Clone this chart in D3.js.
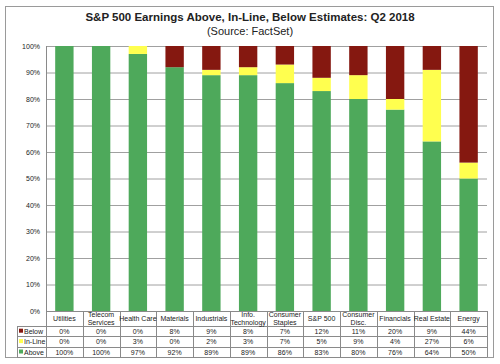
<html lang="en">
<head>
<meta charset="UTF-8">
<title>S&P 500 Earnings Above, In-Line, Below Estimates: Q2 2018</title>
<script src="https://d3js.org/d3.v7.min.js"></script>
<style>
  body { margin: 0; background: #fff; font-family: "Liberation Sans", Arial, sans-serif; }
  svg text { font-family: "Liberation Sans", Arial, sans-serif; fill: #222; }
</style>
</head>
<body>
<svg width="500" height="364"></svg>
<script>
// data
const categories = [
  ["Utilities"], ["Telecom", "Services"], ["Health Care"], ["Materials"],
  ["Industrials"], ["Info.", "Technology"], ["Consumer", "Staples"], ["S&P 500"],
  ["Consumer", "Disc."], ["Financials"], ["Real Estate"], ["Energy"]
];
const below  = [0, 0, 0, 8, 9, 8, 7, 12, 11, 20, 9, 44];
const inLine = [0, 0, 3, 0, 2, 3, 7, 5, 9, 4, 27, 6];
const above  = [100, 100, 97, 92, 89, 89, 86, 83, 80, 76, 64, 50];
const yTicks = [0, 10, 20, 30, 40, 50, 60, 70, 80, 90, 100];

const colors = { above: "#4ea95b", inLine: "#ffff4f", below: "#851810" };

const svg = d3.select("svg");
const plotLeft = 46, plotRight = 487, plotTop = 46, plotBottom = 311;

// outer frame
svg.append("rect")
  .attr("x", 5.5).attr("y", 6.5).attr("width", 488).attr("height", 351)
  .attr("fill", "none").attr("stroke", "#9a9a9a");

svg.append("text").attr("x", 250).attr("y", 21)
  .attr("text-anchor", "middle").attr("font-size", 11.5).attr("font-weight", "bold")
  .text("S&P 500 Earnings Above, In-Line, Below Estimates: Q2 2018");
svg.append("text").attr("x", 250).attr("y", 35)
  .attr("text-anchor", "middle").attr("font-size", 11)
  .text("(Source: FactSet)");

const x = d3.scaleBand()
  .domain(d3.range(categories.length))
  .range([plotLeft, plotRight])
  .padding(0);

const y = d3.scaleLinear().domain([0, 100]).range([plotBottom, plotTop]);

// gridlines
svg.append("g")
  .attr("transform", `translate(${plotLeft},0)`)
  .call(d3.axisLeft(y).tickValues(yTicks).tickSize(-(plotRight - plotLeft)).tickFormat(d => d + "%"))
  .call(g => g.select(".domain").remove())
  .call(g => g.selectAll(".tick line").attr("stroke", "#a0a0a0"))
  .call(g => g.selectAll(".tick text").attr("x", -6).attr("font-size", 7)
    .attr("font-family", "Liberation Sans, Arial, sans-serif").attr("fill", "#222"));

// y axis line
svg.append("line").attr("x1", plotLeft + 0.5).attr("x2", plotLeft + 0.5)
  .attr("y1", plotTop).attr("y2", plotBottom).attr("stroke", "#8a8a8a");

// stacked bars
const rows = categories.map((c, i) => ({ i, above: above[i], inLine: inLine[i], below: below[i] }));
const stack = d3.stack().keys(["above", "inLine", "below"]);
const series = stack(rows);
const bw = x.bandwidth() * 0.5;

svg.append("g").selectAll("g")
  .data(series)
  .join("g")
  .attr("fill", d => colors[d.key])
  .selectAll("rect")
  .data(d => d)
  .join("rect")
  .attr("x", d => x(d.data.i) + (x.bandwidth() - bw) / 2)
  .attr("width", bw)
  .attr("y", d => y(Math.min(d[1], 100)))
  .attr("height", d => Math.max(0, y(d[0]) - y(Math.min(d[1], 100))));

// data table
const tableTop = plotBottom, headBottom = 326, rowH = 10.4, tableBottom = headBottom + rowH * 3;
const tableLeft = 17;
const lineColor = "#8a8a8a";
const t = svg.append("g");

// horizontal lines
t.append("line").attr("x1", plotLeft).attr("x2", plotRight).attr("y1", tableTop + 0.5).attr("y2", tableTop + 0.5).attr("stroke", lineColor);
[0, 1, 2, 3].forEach(k => {
  const yy = Math.round(headBottom + rowH * k) + 0.5;
  t.append("line").attr("x1", tableLeft).attr("x2", plotRight).attr("y1", yy).attr("y2", yy).attr("stroke", lineColor);
});
// vertical lines
d3.range(categories.length + 1).forEach(k => {
  const xx = Math.round(plotLeft + x.bandwidth() * k) + 0.5;
  t.append("line").attr("x1", xx).attr("x2", xx).attr("y1", tableTop).attr("y2", tableBottom).attr("stroke", lineColor);
});
t.append("line").attr("x1", tableLeft + 0.5).attr("x2", tableLeft + 0.5)
  .attr("y1", headBottom).attr("y2", tableBottom).attr("stroke", lineColor);

// header labels
categories.forEach((c, i) => {
  const cx = x(i) + x.bandwidth() / 2;
  const midY = (tableTop + headBottom) / 2 + 2.5;
  c.forEach((line, j) => {
    t.append("text").attr("x", cx)
      .attr("y", midY + (j - (c.length - 1) / 2) * 8)
      .attr("text-anchor", "middle").attr("font-size", 7)
      .text(line);
  });
});

// data rows
const tableRows = [
  { name: "Below", values: below, color: colors.below },
  { name: "In-Line", values: inLine, color: colors.inLine },
  { name: "Above", values: above, color: colors.above }
];
tableRows.forEach((r, k) => {
  const cy = headBottom + rowH * k + rowH / 2 + 2.5;
  t.append("rect").attr("x", tableLeft + 2).attr("y", cy - 5).attr("width", 4).attr("height", 4).attr("fill", r.color);
  t.append("text").attr("x", tableLeft + 7).attr("y", cy).attr("font-size", 7).text(r.name);
  r.values.forEach((v, i) => {
    t.append("text").attr("x", x(i) + x.bandwidth() / 2).attr("y", cy)
      .attr("text-anchor", "middle").attr("font-size", 7).text(v + "%");
  });
});
</script>
</body>
</html>
